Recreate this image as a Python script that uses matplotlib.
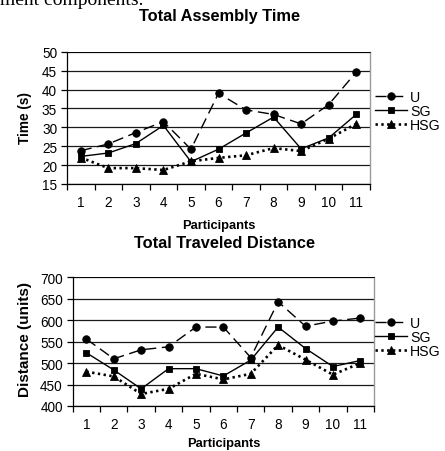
import matplotlib
matplotlib.use("Agg")
import matplotlib.pyplot as plt

plt.rcParams['font.family'] = ['Liberation Sans', 'DejaVu Sans']

participants = list(range(1, 12))
tick_labels = [str(p) for p in participants]
series_names = ["U", "SG", "HSG"]

time_u = [23.8, 25.6, 28.6, 31.5, 24.2, 39.0, 34.6, 33.4, 30.9, 36.0, 44.6]
time_sg = [22.3, 23.2, 25.7, 30.5, 20.9, 24.2, 28.5, 32.7, 24.3, 27.2, 33.4]
time_hsg = [22.0, 19.2, 19.2, 18.7, 21.0, 21.9, 22.6, 24.5, 23.7, 27.0, 30.9]

dist_u = [556, 510, 531, 538, 584, 584, 513, 643, 586, 598, 605]
dist_sg = [524, 484, 440, 487, 487, 470, 507, 584, 534, 492, 506]
dist_hsg = [480, 469, 428, 440, 475, 462, 475, 542, 508, 473, 500]

W, H = 445, 452
fig = plt.figure(figsize=(W / 100, H / 100), dpi=100)

def px_axes(l, t, r, b):
    return fig.add_axes([l / W, 1 - b / H, (r - l) / W, (b - t) / H])

styles = [
    dict(linestyle=(0, (8, 4)), linewidth=1.0, marker='o', markersize=5.4),
    dict(linestyle='-', linewidth=1.0, marker='s', markersize=4.7),
    dict(linestyle=(0, (0.9, 1.3)), linewidth=1.9, marker='^', markersize=5.2),
]

def draw(ax, data, ylim, ystep, leg_anchor):
    for vals, name, st in zip(data, series_names, styles):
        ax.plot(participants, vals, color='black', label=name,
                markerfacecolor='black', markeredgecolor='black',
                markeredgewidth=0.6, **st)
    ax.set_xlim(0.5, 11.5)
    ax.set_ylim(*ylim)
    yt = list(range(ylim[0], ylim[1] + 1, ystep))
    ax.set_yticks(yt)
    ax.yaxis.grid(True, color='#1a1a1a', linewidth=0.9)
    ax.set_axisbelow(True)
    ax.set_xticks([p + 0.5 for p in [0] + participants])
    ax.set_xticklabels([])
    ax.set_xticks(participants, minor=True)
    ax.set_xticklabels(tick_labels, minor=True)
    ax.tick_params(axis='x', which='major', length=4.3, width=0.9, direction='out')
    ax.tick_params(axis='x', which='minor', length=0, pad=7.6, labelsize=9.8)
    ax.tick_params(axis='y', length=4.3, width=0.9, direction='out', pad=2.8, labelsize=9.8)
    for s in ['left', 'bottom', 'top']:
        ax.spines[s].set_color('black')
        ax.spines[s].set_linewidth(0.9)
    ax.spines['top'].set_linewidth(0.6)
    ax.spines['right'].set_color('#9a9a9a')
    ax.spines['right'].set_linewidth(1.0)
    leg = ax.legend(loc='center left', bbox_to_anchor=leg_anchor, frameon=False,
                    fontsize=10.2, handlelength=2.25, handletextpad=0.22,
                    borderpad=0, borderaxespad=0, labelspacing=0.0)
    return leg

ax1 = px_axes(67, 52.7, 370, 185)
draw(ax1, [time_u, time_sg, time_hsg], (15, 50), 5, (1.016, 0.552))
ax2 = px_axes(72.7, 278.3, 374, 407)
draw(ax2, [dist_u, dist_sg, dist_hsg], (400, 700), 50, (1.003, 0.536))

def ftext(x, y, s, **kw):
    fig.text(x / W, 1 - y / H, s, **kw)

ftext(0, 5, "ment components.", family='Liberation Serif', fontsize=14,
      ha='left', va='baseline')
ftext(219.5, 16.5, "Total Assembly Time", fontsize=11.8, fontweight='bold',
      ha='center', va='center')
ftext(224.5, 244, "Total Traveled Distance", fontsize=11.8, fontweight='bold',
      ha='center', va='center')
ftext(25.5, 118.5, "Time (s)", fontsize=9.8, fontweight='bold', rotation=90,
      ha='center', va='center')
ftext(25, 340, "Distance (units)", fontsize=11, fontweight='bold', rotation=90,
      ha='center', va='center')
ftext(219, 226, "Participants", fontsize=9.3, fontweight='bold',
      ha='center', va='center')
ftext(223.5, 444, "Participants", fontsize=9.3, fontweight='bold',
      ha='center', va='center')

fig.savefig("out.png", dpi=100)
